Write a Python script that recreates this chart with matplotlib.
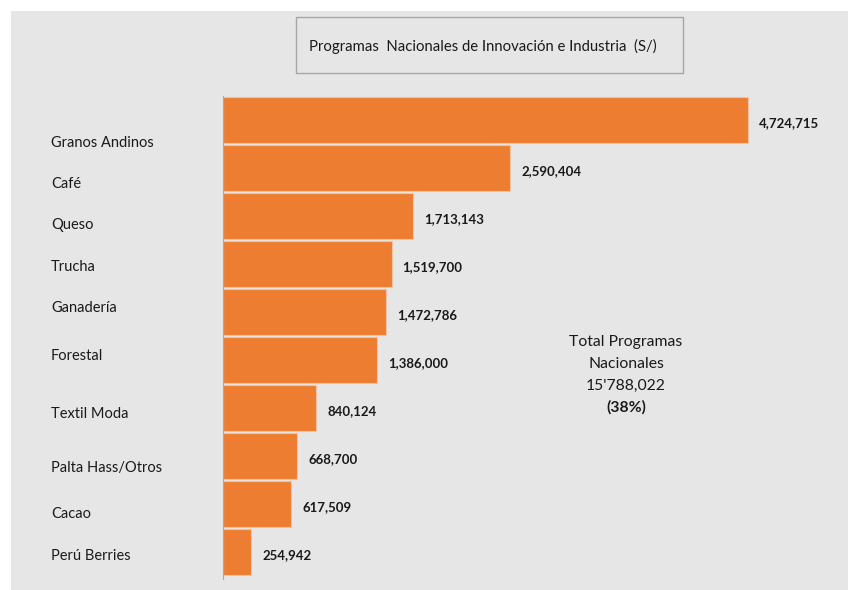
import matplotlib
matplotlib.use("Agg")
import matplotlib.pyplot as plt
from matplotlib.patches import Rectangle

categories = ["Granos Andinos", "Café", "Queso", "Trucha", "Ganadería", "Forestal",
              "Textil Moda", "Palta Hass/Otros", "Cacao", "Perú Berries"]
values = [4724715, 2590404, 1713143, 1519700, 1472786, 1386000,
          840124, 668700, 617509, 254942]
title = "Programas  Nacionales de Innovación e Industria  (S/)"
total_lines = ["Total Programas", "Nacionales", "15'788,022", "(38%)"]

plt.rcParams['font.family'] = ['Lato', 'DejaVu Sans']

W, H = 848, 590
fig = plt.figure(figsize=(W / 100, H / 100), dpi=100)
fig.patch.set_facecolor("white")

def fx(px):
    return px / W

def fy(py):
    return 1 - py / H

BG = "#E6E6E6"
ORANGE = "#ED7D31"

# gray panel
fig.patches.append(Rectangle((fx(11), 0), fx(W) - fx(11), fy(11), transform=fig.transFigure,
                             facecolor=BG, edgecolor="none", zorder=-10))

# axes placement in pixels
ax_left, ax_right = 222.7, 800.0
ax_top, ax_bottom = 96.0, 576.3
px_per_unit = 111.1e-6
ax = fig.add_axes([fx(ax_left), fy(ax_bottom), fx(ax_right) - fx(ax_left),
                   (ax_bottom - ax_top) / H])
ax.set_facecolor("none")
ax.set_zorder(5)
ax.set_xlim(0, (ax_right - ax_left) / px_per_unit)
ax.set_ylim(len(values) - 0.5, -0.5)

y = list(range(len(values)))
ax.barh(y, values, height=0.955, color=ORANGE, edgecolor="#F3C3A3", linewidth=0.8, zorder=2)

for yi, v in zip(y, values):
    ax.annotate(f"{v:,}", (v, yi), xytext=(8, -2), textcoords="offset points",
                ha="left", va="center", fontsize=9.5, fontweight="bold", color="#1a1a1a",
                annotation_clip=False)

for s in ["top", "right", "bottom"]:
    ax.spines[s].set_visible(False)
ax.spines["left"].set_color("#8FAADC")
ax.spines["left"].set_linewidth(0.8)
ax.spines["left"].set_bounds(len(values) - 0.45, -0.5)
ax.set_xticks([])
ax.set_yticks([])

# category labels (separate text boxes in the original)
label_y_px = [142.7, 184, 225.3, 266.7, 308.3, 356, 414, 468.3, 514.3, 556]
for name, py in zip(categories, label_y_px):
    fig.text(fx(51), fy(py), name, ha="left", va="center", fontsize=10.5, color="#1a1a1a")

# title box
fig.patches.append(Rectangle((fx(296), fy(73)), fx(683) - fx(296), fy(17) - fy(73),
                             transform=fig.transFigure, facecolor=BG,
                             edgecolor="#A6A6A6", linewidth=1.0, zorder=1))
fig.text(fx(482.5), fy(46), title, ha="center", va="center", fontsize=10.7, color="#1a1a1a")

# total annotation
total_y_px = [341.7, 364, 385.5, 407.3]
for i, (line, py) in enumerate(zip(total_lines, total_y_px)):
    fig.text(fx(626), fy(py), line, ha="center", va="center", fontsize=11.3,
             fontweight="bold" if i == 3 else "normal", color="#1a1a1a")

fig.savefig("out.png", dpi=100, facecolor=fig.get_facecolor())
